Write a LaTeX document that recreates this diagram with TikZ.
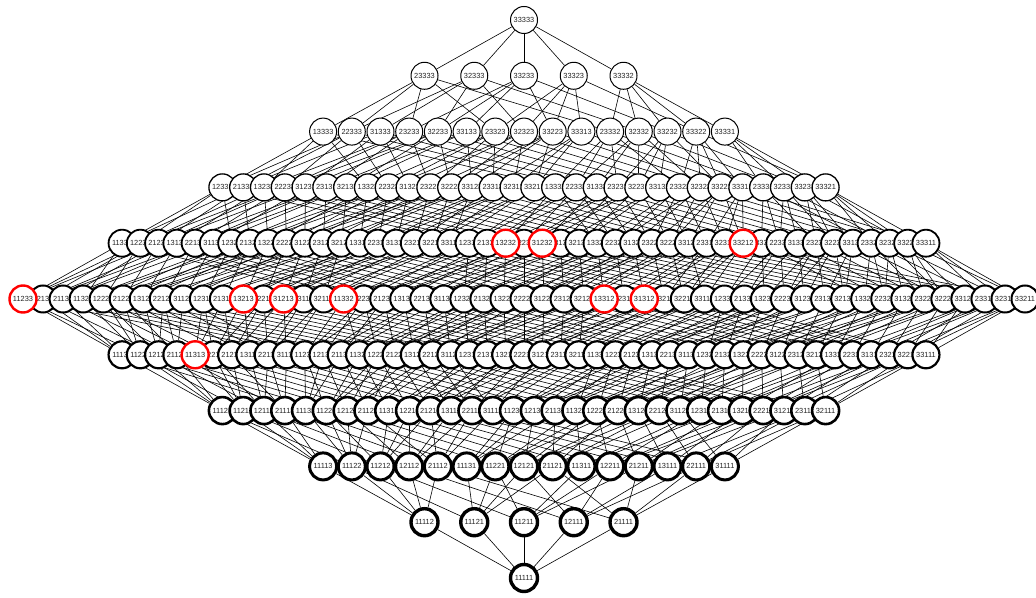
\documentclass[tikz,border=0pt]{standalone}
\usepackage{fontspec}
\newfontfamily\elemfont{Liberation Sans}
\usetikzlibrary{backgrounds}

\def\rowsize{{1,5,15,30,45,51,45,30,15,5,1}}
\def\rowgap{{0,49.75,28.7,20.8,18.27,20.04,18.27,20.8,28.7,49.75,0}}
\def\rowrim{{3.4,3.4,3.0,2.6,2.2,2.0,1.8,1.3,1.0,1.0,1.0}}
\def\hitlist{11313,11233,13213,31213,11332,13312,31312,13232,31232,33212}

\begin{document}
\begin{tikzpicture}[x=1pt, y=1pt]
  \tikzset{
    elem/.style={circle, draw, fill=white, minimum size=27pt, inner sep=0pt,
      text=black!85, font=\elemfont\fontsize{7.4}{8}\selectfont},
    hit/.style={draw=red, line width=2.4pt},
    link/.style={line width=0.6pt}
  }
  \useasboundingbox (0,0) rectangle (1036,597);

  \foreach \l in {0,...,10}{\expandafter\xdef\csname seen\l\endcsname{0}}
  \foreach \w in \hitlist{\expandafter\xdef\csname hitnode\w\endcsname{1}}

  \foreach \e in {3,2,1}{
  \foreach \d in {3,2,1}{
  \foreach \c in {3,2,1}{
  \foreach \b in {3,2,1}{
  \foreach \a in {3,2,1}{
    \pgfmathtruncatemacro{\lvl}{\a+\b+\c+\d+\e-5}
    \edef\idx{\csname seen\lvl\endcsname}
    \expandafter\xdef\csname seen\lvl\endcsname{\the\numexpr\idx+1\relax}
    \pgfmathsetmacro{\px}{524+(\idx-(\rowsize[\lvl]-1)/2)*\rowgap[\lvl]}
    \pgfmathsetmacro{\rim}{\rowrim[\lvl]}
    \coordinate (p\a\b\c\d\e) at (\px, 19+55.8*\lvl);
    \ifcsname hitnode\a\b\c\d\e\endcsname\else
      \node[elem, line width=\rim pt] (n\a\b\c\d\e) at (p\a\b\c\d\e) {\a\b\c\d\e};
    \fi
  }}}}}
  \foreach \w in \hitlist{\node[elem, hit] (n\w) at (p\w) {\w};}

  \begin{pgfonlayer}{background}
  \foreach \a in {1,2,3}{
  \foreach \b in {1,2,3}{
  \foreach \c in {1,2,3}{
  \foreach \d in {1,2,3}{
  \foreach \e in {1,2,3}{
    \ifnum\a<3 \pgfmathtruncatemacro{\nx}{\a+1}\draw[link] (n\a\b\c\d\e) -- (n\nx\b\c\d\e);\fi
    \ifnum\b<3 \pgfmathtruncatemacro{\nx}{\b+1}\draw[link] (n\a\b\c\d\e) -- (n\a\nx\c\d\e);\fi
    \ifnum\c<3 \pgfmathtruncatemacro{\nx}{\c+1}\draw[link] (n\a\b\c\d\e) -- (n\a\b\nx\d\e);\fi
    \ifnum\d<3 \pgfmathtruncatemacro{\nx}{\d+1}\draw[link] (n\a\b\c\d\e) -- (n\a\b\c\nx\e);\fi
    \ifnum\e<3 \pgfmathtruncatemacro{\nx}{\e+1}\draw[link] (n\a\b\c\d\e) -- (n\a\b\c\d\nx);\fi
  }}}}}
  \end{pgfonlayer}
\end{tikzpicture}
\end{document}
